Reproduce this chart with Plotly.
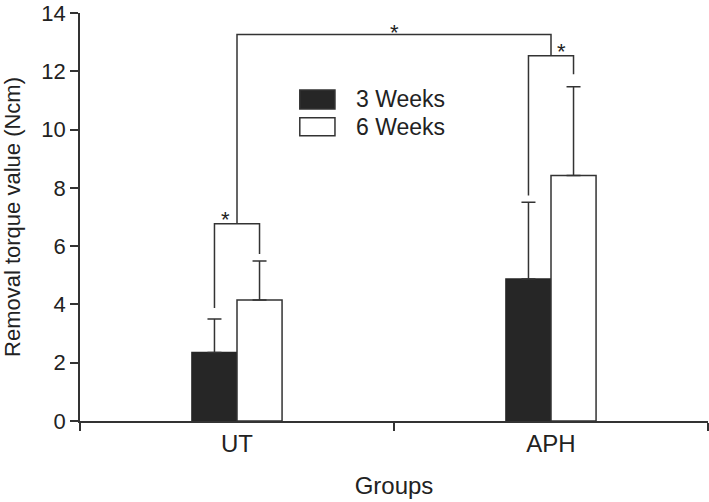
import plotly.graph_objects as go

# ---- data ----
categories = ["UT", "APH"]
series_names = ["3 Weeks", "6 Weeks"]
mean_3wk = [2.35, 4.87]
mean_6wk = [4.15, 8.42]
sd_3wk = [1.15, 2.64]
sd_6wk = [1.34, 3.05]
y_ticks = [0, 2, 4, 6, 8, 10, 12, 14]

# significance brackets (y levels in data units)
within_level = [6.77, 12.53]      # bracket heights per group
within_left_end = [3.88, 7.74]    # bottom of left leg
within_right_end = [5.73, 11.9]   # bottom of right leg
between_level = 13.26             # UT vs APH bracket

# ---- style ----
INK = "#333333"
DARK = "#262626"
TXT = "#222222"
FONT = "Liberation Sans, Arial, sans-serif"
bargap = 0.713
half = (1 - bargap) / 4  # offset of each bar centre from category centre

fig = go.Figure()
fig.add_trace(go.Bar(
    x=categories, y=mean_3wk, name=series_names[0],
    marker=dict(color=DARK, line=dict(color=DARK, width=1.5)),
    error_y=dict(type="data", array=sd_3wk, arrayminus=[0, 0], symmetric=False,
                 color=INK, thickness=1.5, width=7),
))
fig.add_trace(go.Bar(
    x=categories, y=mean_6wk, name=series_names[1],
    marker=dict(color="white", line=dict(color=INK, width=1.5)),
    error_y=dict(type="data", array=sd_6wk, arrayminus=[0, 0], symmetric=False,
                 color=INK, thickness=1.5, width=7),
))

line = dict(color=INK, width=1.5)
shapes = []
for i in range(len(categories)):
    xl, xr = i - half, i + half
    shapes.append(dict(type="path", xref="x", yref="y", line=line,
                       path=f"M {xl} {within_left_end[i]} L {xl} {within_level[i]} "
                            f"L {xr} {within_level[i]} L {xr} {within_right_end[i]}"))
shapes.append(dict(type="path", xref="x", yref="y", line=line,
                   path=f"M 0 {within_level[0]} L 0 {between_level} "
                        f"L 1 {between_level} L 1 {within_level[1]}"))

# manual legend
leg_x0, leg_x1 = 0.350, 0.406
leg_rows = [(0.811, 0.765), (0.743, 0.699)]
fills = [DARK, "white"]
for (ytop, ybot), fill in zip(leg_rows, fills):
    shapes.append(dict(type="rect", xref="paper", yref="paper",
                       x0=leg_x0, x1=leg_x1, y0=ybot, y1=ytop,
                       fillcolor=fill, line=dict(color=INK, width=1.5)))

annotations = []
for (ytop, ybot), name in zip(leg_rows, series_names):
    annotations.append(dict(xref="paper", yref="paper", x=0.436, y=(ytop + ybot) / 2,
                            text=name, showarrow=False, xanchor="left", yanchor="middle",
                            font=dict(family=FONT, size=23, color=TXT)))

star_font = dict(family=FONT, size=22, color=TXT)
annotations.append(dict(xref="x", yref="y", x=-0.038, y=within_level[0], text="*",
                        showarrow=False, yanchor="middle", yshift=4, font=star_font))
annotations.append(dict(xref="x", yref="y", x=1.034, y=within_level[1], text="*",
                        showarrow=False, yanchor="middle", yshift=4, font=star_font))
annotations.append(dict(xref="x", yref="y", x=0.5, y=between_level, text="*",
                        showarrow=False, yanchor="middle", yshift=2, font=star_font))

fig.update_layout(
    width=709, height=502,
    margin=dict(l=80, r=1, t=13, b=81),
    paper_bgcolor="white", plot_bgcolor="white",
    barmode="group", bargap=bargap, bargroupgap=0,
    showlegend=False,
    shapes=shapes, annotations=annotations,
    font=dict(family=FONT, size=23, color=TXT),
    xaxis=dict(
        automargin=False,
        showline=True, linecolor=INK, linewidth=1.5,
        ticks="outside", tickson="boundaries", ticklen=8, tickwidth=1.5, tickcolor=INK,
        showgrid=False, zeroline=False,
        tickfont=dict(family=FONT, size=24, color=TXT),
        title=dict(text="Groups", font=dict(family=FONT, size=24, color=TXT), standoff=22),
    ),
    yaxis=dict(
        automargin=False,
        range=[0, 14], tickvals=y_ticks, ticklabeloverflow="allow",
        showline=True, linecolor=INK, linewidth=1.5,
        ticks="outside", ticklen=8, tickwidth=1.5, tickcolor=INK,
        showgrid=False, zeroline=False,
        tickfont=dict(family=FONT, size=22, color=TXT),
        title=dict(text="Removal torque value (Ncm)",
                   font=dict(family=FONT, size=22, color=TXT), standoff=16),
    ),
)

fig.write_html("out.html", config={"displayModeBar": False},
               post_script="document.body.style.margin='0';")
